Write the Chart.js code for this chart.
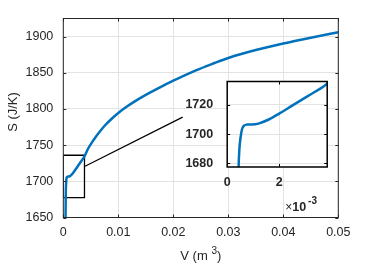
<!DOCTYPE html>
<html>
<head>
<meta charset="utf-8">
<script src="https://cdn.jsdelivr.net/npm/chart.js@4.4.1/dist/chart.umd.min.js"></script>
<style>
  html, body { margin: 0; padding: 0; background: #fff; }
  #wrap { position: relative; width: 374px; height: 265px; }
  #mainChart { position: absolute; left: 0; top: 0; }
  #insetChart { position: absolute; left: 175px; top: 60px; }
</style>
</head>
<body>
<div id="wrap">
  <canvas id="mainChart" width="374" height="265"></canvas>
  <canvas id="insetChart" width="165" height="155"></canvas>
</div>
<script>
// entropy curve S(V)
const volume = [0.00040, 0.00044, 0.00047, 0.00051, 0.00057, 0.00065, 0.00075, 0.00095, 0.0012, 0.0016,
                0.0020, 0.0025, 0.0031, 0.0038, 0.0045, 0.0055, 0.0065, 0.0076, 0.0088, 0.0100,
                0.0115, 0.0130, 0.0150, 0.0175, 0.0200, 0.0240, 0.0275, 0.0300, 0.0350, 0.0400,
                0.0450, 0.0500];
const entropy = [1640, 1677.8, 1690, 1697, 1703.3, 1705.8, 1706.5, 1706.6, 1707.2, 1710,
                 1714, 1719.5, 1726, 1733.8, 1745, 1757, 1767.5, 1777.5, 1786.5, 1794.5,
                 1803, 1810.5, 1819.5, 1829.5, 1839, 1853, 1863.5, 1870.5, 1881.5, 1890.5,
                 1898.5, 1906];

// main axes
const xRange = [0, 0.05];
const yRange = [1650, 1925];
const xTicks = [0, 0.01, 0.02, 0.03, 0.04, 0.05];
const yTicks = [1650, 1700, 1750, 1800, 1850, 1900];

// zoomed region (inset limits + box drawn on main axes)
const insetV = [0, 0.00385];
const insetS = [1677.5, 1736];
const insetXTicks = [0, 0.002];
const insetYTicks = [1680, 1700, 1720];

// leader line from the box towards the inset
const leaderV = [0.00395, 0.0217];
const leaderS = [1720.7, 1788.7];

const FONT = "'Liberation Sans', Arial, Helvetica, sans-serif";
const INK = '#262626';
const BLUE = '#0072BD';

const curvePoints = volume.map((v, i) => ({ x: v, y: entropy[i] }));
const boxPoints = [
    { x: insetV[0], y: insetS[0] }, { x: insetV[1], y: insetS[0] },
    { x: insetV[1], y: insetS[1] }, { x: insetV[0], y: insetS[1] },
    { x: insetV[0], y: insetS[0] }
];
const leaderPoints = leaderV.map((v, i) => ({ x: v, y: leaderS[i] }));

// box round the axes + short inward tick marks (matlab look)
function frameAndTicks(color, width, tickLen) {
    return {
        id: 'frame',
        afterDatasetsDraw(chart) {
            const { ctx, chartArea: a, scales: { x, y } } = chart;
            ctx.save();
            ctx.strokeStyle = color;
            ctx.lineWidth = 1;
            ctx.beginPath();
            x.ticks.forEach(t => {
                const px = Math.round(x.getPixelForValue(t.value)) + 0.5;
                ctx.moveTo(px, a.bottom); ctx.lineTo(px, a.bottom - tickLen);
                ctx.moveTo(px, a.top); ctx.lineTo(px, a.top + tickLen);
            });
            y.ticks.forEach(t => {
                const py = Math.round(y.getPixelForValue(t.value)) + 0.5;
                ctx.moveTo(a.left, py); ctx.lineTo(a.left + tickLen, py);
                ctx.moveTo(a.right, py); ctx.lineTo(a.right - tickLen, py);
            });
            ctx.stroke();
            ctx.lineWidth = width;
            ctx.strokeRect(a.left, a.top, a.right - a.left, a.bottom - a.top);
            ctx.restore();
        }
    };
}

const axisTitles = {
    id: 'axisTitles',
    afterDraw(chart) {
        const { ctx, chartArea: a } = chart;
        ctx.save();
        ctx.fillStyle = INK;
        ctx.font = '13px ' + FONT;
        // y title
        ctx.translate(13, (a.top + a.bottom) / 2 - 6);
        ctx.rotate(-Math.PI / 2);
        ctx.textAlign = 'center';
        ctx.textBaseline = 'middle';
        ctx.fillText('S (J/K)', 0, 0);
        ctx.setTransform(1, 0, 0, 1, 0, 0);
        // x title with superscript
        const base = 'V (m ', sup = '3', tail = ')';
        ctx.font = '13px ' + FONT;
        const wBase = ctx.measureText(base).width;
        const wTail = ctx.measureText(tail).width;
        ctx.font = '10px ' + FONT;
        const wSup = ctx.measureText(sup).width;
        let x0 = (a.left + a.right) / 2 - (wBase + wSup + wTail) / 2;
        const yb = 260;
        ctx.textAlign = 'left';
        ctx.textBaseline = 'alphabetic';
        ctx.font = '13px ' + FONT;
        ctx.fillText(base, x0, yb);
        ctx.font = '10px ' + FONT;
        ctx.fillText(sup, x0 + wBase, yb - 6);
        ctx.font = '13px ' + FONT;
        ctx.fillText(tail, x0 + wBase + wSup, yb);
        ctx.restore();
    }
};

new Chart(document.getElementById('mainChart'), {
    type: 'scatter',
    data: {
        datasets: [{
            data: curvePoints,
            showLine: true,
            borderColor: BLUE,
            borderWidth: 2.5,
            pointRadius: 0,
            cubicInterpolationMode: 'monotone'
        }, {
            data: boxPoints,
            showLine: true,
            borderColor: '#000',
            borderWidth: 1.3,
            pointRadius: 0
        }, {
            data: leaderPoints,
            showLine: true,
            borderColor: '#000',
            borderWidth: 1.2,
            pointRadius: 0
        }]
    },
    options: {
        responsive: false,
        animation: false,
        layout: { padding: { left: 0, top: 18.5, right: 35.7, bottom: 0 } },
        plugins: { legend: { display: false }, tooltip: { enabled: false } },
        scales: {
            x: {
                type: 'linear',
                min: xRange[0],
                max: xRange[1],
                afterBuildTicks: s => { s.ticks = xTicks.map(v => ({ value: v })); },
                afterFit: s => { s.height = 47.5; },
                grid: { color: '#e3e3e3', drawTicks: false },
                border: { display: false },
                ticks: { color: INK, padding: 8, font: { family: FONT, size: 12.5 }, maxRotation: 0,
                         callback: v => String(v) }
            },
            y: {
                type: 'linear',
                min: yRange[0],
                max: yRange[1],
                afterBuildTicks: s => { s.ticks = yTicks.map(v => ({ value: v })); },
                afterFit: s => { s.width = 63.3; },
                grid: { color: '#e3e3e3', drawTicks: false },
                border: { display: false },
                ticks: { color: INK, padding: 10, font: { family: FONT, size: 12.5 },
                         callback: v => String(v) }
            }
        }
    },
    plugins: [frameAndTicks(INK, 1, 3), axisTitles]
});

const insetExtras = {
    id: 'insetExtras',
    beforeDraw(chart) {
        const { ctx, chartArea: a } = chart;
        ctx.save();
        ctx.fillStyle = '#fff';
        ctx.fillRect(a.left, a.top, a.right - a.left, a.bottom - a.top);
        ctx.restore();
    },
    afterDraw(chart) {
        const { ctx, chartArea: a } = chart;
        ctx.save();
        ctx.fillStyle = INK;
        ctx.textBaseline = 'alphabetic';
        ctx.textAlign = 'left';
        let x0 = a.right - 42;
        const yb = 150.5;
        ctx.font = '12px ' + FONT;
        ctx.fillText('\u00d7', x0, yb);
        x0 += ctx.measureText('\u00d7').width;
        ctx.font = 'bold 12.5px ' + FONT;
        ctx.fillText('10', x0, yb);
        x0 += ctx.measureText('10').width + 2;
        ctx.font = 'bold 10px ' + FONT;
        ctx.fillText('-3', x0, yb - 7);
        ctx.restore();
    }
};

new Chart(document.getElementById('insetChart'), {
    type: 'scatter',
    data: {
        datasets: [{
            data: curvePoints,
            showLine: true,
            borderColor: BLUE,
            borderWidth: 2.5,
            pointRadius: 0,
            cubicInterpolationMode: 'monotone'
        }]
    },
    options: {
        responsive: false,
        animation: false,
        layout: { padding: { left: 0, top: 11.5, right: 12.8, bottom: 0 } },
        plugins: { legend: { display: false }, tooltip: { enabled: false } },
        scales: {
            x: {
                type: 'linear',
                min: insetV[0],
                max: insetV[1],
                afterBuildTicks: s => { s.ticks = insetXTicks.map(v => ({ value: v })); },
                afterFit: s => { s.height = 48; },
                grid: { color: '#e3e3e3', drawTicks: false },
                border: { display: false },
                ticks: { color: INK, padding: 8, font: { family: FONT, size: 12.5, weight: 'bold' },
                         maxRotation: 0, callback: v => String(Math.round(v * 1000)) }
            },
            y: {
                type: 'linear',
                min: insetS[0],
                max: insetS[1],
                afterBuildTicks: s => { s.ticks = insetYTicks.map(v => ({ value: v })); },
                afterFit: s => { s.width = 52.2; },
                grid: { color: '#e3e3e3', drawTicks: false },
                border: { display: false },
                ticks: { color: INK, padding: 14, font: { family: FONT, size: 12.5, weight: 'bold' },
                         callback: v => String(v) }
            }
        }
    },
    plugins: [frameAndTicks('#000', 1.5, 3), insetExtras]
});
</script>
</body>
</html>
